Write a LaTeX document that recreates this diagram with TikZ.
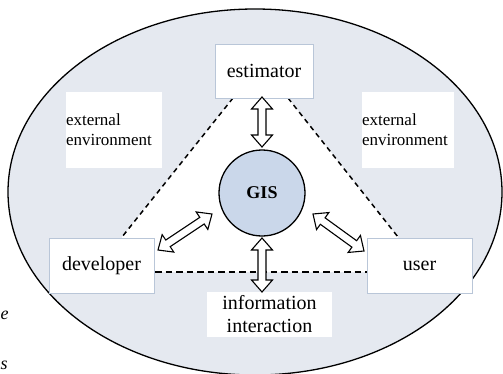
\documentclass[tikz,border=0pt]{standalone}
\usepackage{fontspec}
\setmainfont{Liberation Serif}
\usetikzlibrary{calc}
\definecolor{envfill}{RGB}{229,233,240}
\definecolor{gisfill}{RGB}{202,215,234}
\definecolor{boxline}{RGB}{185,198,216}
\tikzset{
  wbox/.style={rectangle,fill=white,draw=boxline,line width=0.6pt,inner sep=0pt,font=\fontsize{20}{23}\selectfont,align=center},
  envbox/.style={rectangle,fill=white,inner sep=0pt,font=\fontsize{17}{20}\selectfont,align=left,text width=#1},
  darrowline/.style={draw=black,fill=white,line width=1.1pt,line join=miter},
  dline/.style={line width=1.5pt,dash pattern=on 5pt off 4pt},
  dlineb/.style={line width=1.5pt,dash pattern=on 6.5pt off 4pt},
  frag/.style={anchor=base west,inner sep=0pt,font=\fontsize{18}{20}\selectfont\itshape}
}
\newcommand{\hollowdarrow}[2]{%
  \draw[darrowline] let \p1=(#1), \p2=(#2),
    \n1={atan2(\y2-\y1,\x2-\x1)}, \n2={veclen(\x2-\x1,\y2-\y1)} in
    [shift={(\p1)}, rotate=\n1]
    (0pt,0pt) -- (12pt,10.5pt) -- (12pt,4pt) -- (\n2-12pt,4pt) -- (\n2-12pt,10.5pt)
    -- (\n2,0pt) -- (\n2-12pt,-10.5pt) -- (\n2-12pt,-4pt) -- (12pt,-4pt)
    -- (12pt,-10.5pt) -- cycle;}
\begin{document}
\begin{tikzpicture}[x=1pt,y=-1pt]
\useasboundingbox (0,0) rectangle (503,373);
% environment ellipse
\fill[envfill] (255,192) ellipse [x radius=247,y radius=183];
% white triangle region
\fill[white] (233,98) -- (288,98) -- (398,237) -- (398,272) -- (122,272) -- (122,237) -- cycle;
\draw[line width=1.3pt] (255,192) ellipse [x radius=247,y radius=183];
% external environment boxes
\node[envbox=96pt,minimum height=76pt] (extL) at (114,130) {external\\environment};
\node[envbox=92pt,minimum height=76pt] (extR) at (408,130) {external\\environment};
% dashed triangle
\coordinate (t1) at (233,98);
\coordinate (t2) at (288,98);
\coordinate (b1) at (122,237);
\coordinate (b2) at (398,237);
\coordinate (h1) at (155,272);
\coordinate (h2) at (367,272);
\draw[dline] (t1) -- (b1);
\draw[dline] (t2) -- (b2);
\draw[dlineb] (h1) -- (h2);
% nodes
\node[wbox,minimum width=98pt,minimum height=54pt] (est) at (264,71) {estimator};
\node[wbox,minimum width=105pt,minimum height=55pt] (dev) at (101.5,265.5) {developer};
\node[wbox,minimum width=105pt,minimum height=55pt] (usr) at (419.5,265.5) {user};
\node[wbox,draw=none,minimum width=125pt,minimum height=45pt] (info) at (269.5,314.5) {information\\interaction};
\node[circle,draw=black,fill=gisfill,line width=1.3pt,minimum size=86pt,inner sep=0pt,font=\fontsize{18}{20}\selectfont\bfseries] (gis) at (262,193) {GIS};
% arrow ends
\coordinate (a1) at (262,97);
\coordinate (a2) at (262,147);
\coordinate (c1) at (262,238);
\coordinate (c2) at (262,292);
\coordinate (l1) at (158,250);
\coordinate (l2) at (212,214);
\coordinate (r1) at (313,214);
\coordinate (r2) at (364,251);
\hollowdarrow{a1}{a2}
\hollowdarrow{c1}{c2}
\hollowdarrow{l1}{l2}
\hollowdarrow{r1}{r2}
% fragments at left edge
\node[frag] (fe) at (0.5,319) {e};
\node[frag] (fs) at (0.5,369) {s};
\end{tikzpicture}
\end{document}
